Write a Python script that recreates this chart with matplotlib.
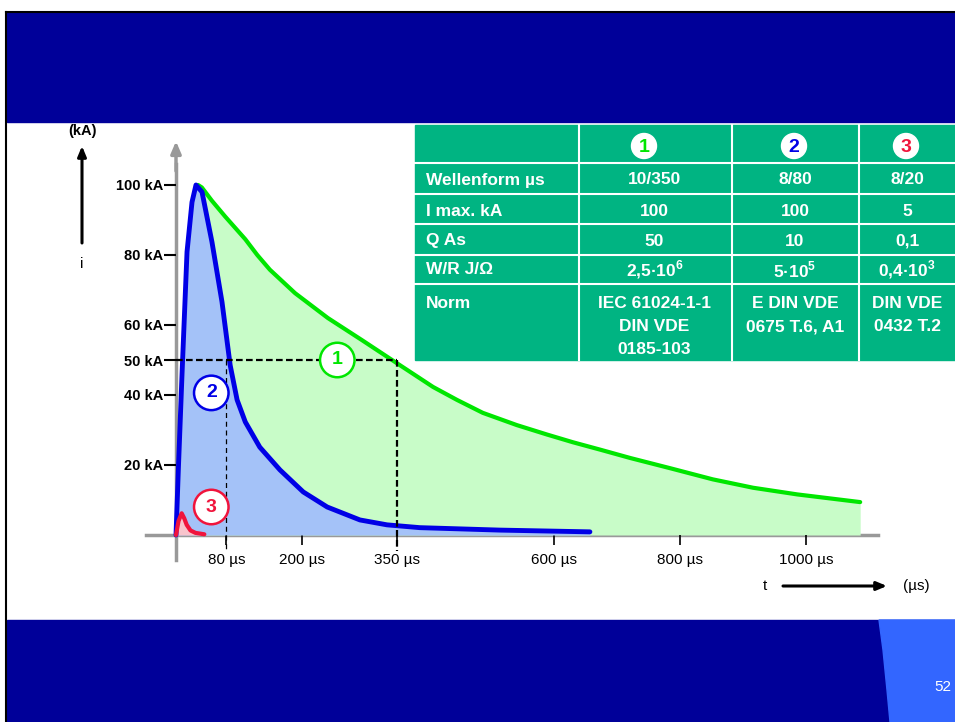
import matplotlib
matplotlib.use("Agg")
import matplotlib.pyplot as plt
from matplotlib.patches import Rectangle, Circle, Polygon

plt.rcParams['font.family'] = ['Liberation Sans', 'DejaVu Sans']
plt.rcParams['mathtext.fontset'] = 'custom'
plt.rcParams['mathtext.rm'] = 'Liberation Sans'
plt.rcParams['mathtext.bf'] = 'Liberation Sans:bold'

# curve 1 : 10/350 us (only the falling part is visible)
t_green = [35, 41, 57, 78, 110, 129, 149, 189, 241, 295, 348, 408, 446,
           487, 541, 589, 630, 673, 721, 784, 852, 916, 986, 1086]
i_green = [100, 99.3, 95.5, 91, 84.5, 80, 75.8, 69.1, 62, 55.7, 49.4, 42.3, 38.6,
           34.9, 31.4, 28.7, 26.5, 24.4, 22, 19.1, 15.9, 13.5, 11.6, 9.4]

# curve 2 : 8/80 us
t_blue = [0, 3.7, 9.5, 17.5, 25.4, 31.7, 41.3, 57.1, 73, 86, 97, 110, 133, 165,
          202, 240, 292, 335, 387, 514, 657]
i_blue = [0, 18.6, 45.7, 80.9, 95.1, 100, 98, 83.7, 66.6, 48.5, 38.6, 32.3, 25.1, 18.6,
          12.3, 8, 4.3, 2.9, 2.1, 1.4, 0.9]

# curve 3 : 8/20 us
t_red = [0, 4, 9, 13, 17, 23, 31, 45]
i_red = [0, 4, 6.2, 4.8, 2.9, 1.3, 0.6, 0.2]

y_ticks = [20, 40, 50, 60, 80, 100]
y_labels = [f"{v} kA" for v in y_ticks]
x_ticks = [80, 200, 350, 600, 800, 1000]
x_labels = [f"{v} µs" for v in x_ticks]

row_labels = ["Wellenform µs", "I max. kA", "Q As", "W/R J/Ω", "Norm"]
col_1 = ["10/350", "100", "50", r"2,5·10$^{\mathbf{6}}$", "IEC 61024-1-1\nDIN VDE\n0185-103"]
col_2 = ["8/80", "100", "10", r"5·10$^{\mathbf{5}}$", "E DIN VDE\n0675 T.6, A1"]
col_3 = ["8/20", "5", "0,1", r"0,4·10$^{\mathbf{3}}$", "DIN VDE\n0432 T.2"]
head_labels = ["1", "2", "3"]

GREEN = '#00e600'
BLUE = '#0000e6'
RED = '#f0143c'
NAVY = '#000099'
TABLE = '#00b482'
GRAY = '#999999'

fig = plt.figure(figsize=(9.55, 7.22), dpi=100)

# slide background (pixel coords)
bg = fig.add_axes([0, 0, 1, 1], zorder=0)
bg.set_xlim(0, 955)
bg.set_ylim(722, 0)
bg.axis('off')
bg.add_patch(Rectangle((7, 12), 948, 110, color=NAVY))
bg.add_patch(Rectangle((7, 620), 948, 102, color=NAVY))
bg.add_patch(Polygon([(879, 620), (883, 650), (887, 690), (890, 722),
                      (955, 722), (955, 620)], closed=True, color='#3366ff'))
bg.plot([6, 6], [12, 722], color='black', lw=1.5)
bg.plot([6, 955], [12, 12], color='black', lw=1.5)
bg.text(943, 687, "52", color='white', fontsize=11, ha='center', va='center')

# chart axes: t=0 at x=176 px, 0.63 px/us ; 0 kA at y=535 px, 3.5 px/kA
ax = fig.add_axes([144.5 / 955, (722 - 570) / 722, 743.4 / 955, 437.5 / 722], zorder=2)
ax.set_facecolor('none')
ax.set_xlim(-50, 1130)
ax.set_ylim(-10, 115)

ax.fill_between(t_green, i_green, 0, color='#c8fcc8', lw=0, zorder=1)
ax.fill_between(t_blue, i_blue, 0, color='#a4c2f8', lw=0, zorder=2)
ax.fill_between(t_red, i_red, 0, color='#f8c4cc', lw=0, zorder=3)
ax.plot(t_green, i_green, color=GREEN, lw=3, solid_capstyle='round',
        solid_joinstyle='round', zorder=4)
ax.plot(t_blue, i_blue, color=BLUE, lw=3.5, solid_capstyle='round',
        solid_joinstyle='round', zorder=5)
ax.plot(t_red, i_red, color=RED, lw=3, solid_capstyle='round',
        solid_joinstyle='round', zorder=6)

# 50 % guide lines
ax.plot([0, 350], [50, 50], color='black', lw=1.6, ls=(0, (3, 1.5)), zorder=7)
ax.plot([350, 350], [50, -4.5], color='black', lw=1.6, ls=(0, (3, 1.5)), zorder=7)
ax.plot([80, 80], [50, -4.5], color='black', lw=0.9, ls=(0, (4, 3)), zorder=7)

# circled curve numbers
for tx, iy, lab, col in [(256, 50, "1", GREEN), (56, 40.6, "2", BLUE), (56, 8, "3", RED)]:
    ax.text(tx, iy, lab, color=col, fontsize=14, fontweight='bold', ha='center',
            va='center', zorder=8,
            bbox=dict(boxstyle='circle,pad=0.45', fc='white', ec=col, lw=1.8))

# axes lines with arrows
for side in ['top', 'right']:
    ax.spines[side].set_visible(False)
ax.spines['left'].set_position(('data', 0))
ax.spines['bottom'].set_position(('data', 0))
ax.spines['left'].set_bounds(-7, 106)
ax.spines['bottom'].set_bounds(-47, 1115)
for side in ['left', 'bottom']:
    ax.spines[side].set_color(GRAY)
    ax.spines[side].set_linewidth(2.5)
    ax.spines[side].set_zorder(0.5)
ax.annotate('', xy=(0, 112.5), xytext=(0, 104), zorder=0.5,
            arrowprops=dict(arrowstyle='-|>,head_length=0.7,head_width=0.3',
                            color=GRAY, lw=2.5, shrinkA=0, shrinkB=0))
ax.annotate('', xy=(1132, 0), xytext=(1110, 0), zorder=0.5,
            arrowprops=dict(arrowstyle='-|>,head_length=0.7,head_width=0.3',
                            color=GRAY, lw=2.5, shrinkA=0, shrinkB=0))

ax.set_yticks(y_ticks)
ax.set_yticklabels(y_labels, fontsize=10.5, fontweight='bold')
ax.set_xticks(x_ticks)
ax.set_xticklabels(x_labels, fontsize=11)
ax.tick_params(axis='y', direction='out', length=9, width=1.5, color='black', pad=0)
ax.tick_params(axis='x', direction='out', length=7, width=1.2, color='black', pad=6)

# overlay: table and axis captions (pixel coords)
ov = fig.add_axes([0, 0, 1, 1], zorder=3)
ov.set_xlim(0, 955)
ov.set_ylim(722, 0)
ov.set_facecolor('none')
ov.axis('off')

ov.text(82, 131, "(kA)", fontsize=10.5, fontweight='bold', ha='center', va='center')
ov.annotate('', xy=(82, 146), xytext=(82, 243),
            arrowprops=dict(arrowstyle='-|>,head_length=0.6,head_width=0.25',
                            color='black', lw=2.2, shrinkA=0, shrinkB=0))
ov.text(82, 264, "i", fontsize=11, ha='center', va='center')
ov.text(765, 586, "t", fontsize=11, ha='center', va='center')
ov.annotate('', xy=(887, 586), xytext=(783, 586),
            arrowprops=dict(arrowstyle='-|>,head_length=0.6,head_width=0.25',
                            color='black', lw=2.2, shrinkA=0, shrinkB=0))
ov.text(916, 586, "(µs)", fontsize=11, ha='center', va='center')

# table
ov.add_patch(Rectangle((415, 125), 540, 235, color=TABLE))
for x in [579, 731.5, 859]:
    ov.plot([x, x], [125, 360], color='white', lw=1.5)
for y in [163, 193.5, 224, 255, 284]:
    ov.plot([415, 955], [y, y], color='white', lw=1.5)

col_x = [654.5, 795, 907]
head_x = [644, 794, 906]
row_y = [180, 211, 241, 270]
norm_y = 303
norm_step = 23.5

for hx, lab, col in zip(head_x, head_labels, [GREEN, BLUE, RED]):
    ov.add_patch(Circle((hx, 146), 12.5, color='white'))
    ov.text(hx, 147, lab, color=col, fontsize=14, fontweight='bold',
            ha='center', va='center')

for k, lab in enumerate(row_labels):
    y = row_y[k] if k < 4 else norm_y
    ov.text(426, y, lab, color='white', fontsize=12.5, fontweight='bold',
            ha='left', va='center')
for cx, vals in zip(col_x, [col_1, col_2, col_3]):
    for k, v in enumerate(vals):
        if k < 4:
            ov.text(cx, row_y[k], v, color='white', fontsize=12.5, fontweight='bold',
                    ha='center', va='center')
        else:
            for j, line in enumerate(v.split("\n")):
                ov.text(cx, norm_y + j * norm_step, line, color='white', fontsize=12.5,
                        fontweight='bold', ha='center', va='center')

fig.savefig("out.png", dpi=100)
